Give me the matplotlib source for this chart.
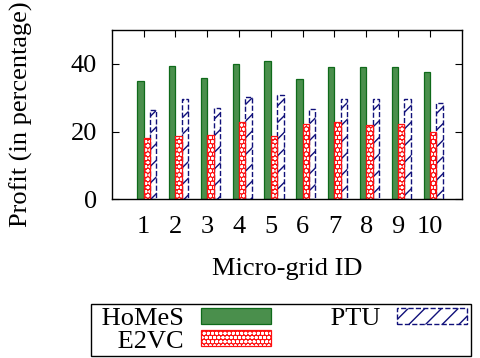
import matplotlib
matplotlib.use("Agg")
import matplotlib.pyplot as plt
import numpy as np

grid_ids = [1, 2, 3, 4, 5, 6, 7, 8, 9, 10]
homes = [35.0, 39.5, 35.9, 40.0, 40.7, 35.5, 39.1, 39.2, 39.0, 37.7]
e2vc = [18.1, 18.8, 18.9, 22.7, 18.6, 22.3, 22.7, 22.0, 22.3, 19.8]
ptu = [26.5, 29.7, 27.1, 30.2, 30.7, 26.8, 29.6, 29.7, 29.6, 28.5]
series_names = ["HoMeS", "E2VC", "PTU"]

plt.rcParams['font.family'] = ['Liberation Serif', 'DejaVu Serif']
plt.rcParams['hatch.linewidth'] = 1.0
FS = 19

fig = plt.figure(figsize=(4.8, 3.58), dpi=100)
ax = fig.add_axes([111.7/480, 1-199.3/358, 350/480, 169.3/358])

x = np.array(grid_ids, dtype=float)
w = 0.2
b1 = ax.bar(x - 0.1, homes, w, color='#4a8f4c', edgecolor='#0f6a1a', linewidth=0.9, zorder=2)
b2a = ax.bar(x + 0.1, e2vc, w, color='#ff1010', linewidth=0, zorder=2)
b2b = ax.bar(x + 0.1, e2vc, w, facecolor='none', edgecolor='white', hatch='oooo', linewidth=0, zorder=2.1)
b2c = ax.bar(x + 0.1, e2vc, w, facecolor='none', edgecolor='#ff1010', linewidth=0.9, zorder=2.2)
b3 = ax.bar(x + 0.3, ptu, w, facecolor='white', edgecolor='#10107a', hatch='//', linestyle='--', linewidth=1.0, zorder=2)

ax.set_xlim(0, 11)
ax.set_ylim(0, 50)
ax.set_xticks(grid_ids)
ax.set_xticklabels([str(g) for g in grid_ids])
ax.set_yticks([0, 20, 40])
ax.tick_params(axis='both', direction='in', length=5, width=0.8, top=True, right=True, labelsize=FS)
ax.tick_params(axis='y', pad=10.5)
ax.tick_params(axis='x', pad=12)
for s in ax.spines.values():
    s.set_linewidth(1.0)

ax.set_xlabel("Micro-grid ID", fontsize=FS)
ax.xaxis.set_label_coords(0.5, -0.345)
ax.set_ylabel("Profit (in percentage)", fontsize=FS)
ax.yaxis.set_label_coords(-0.225, 0.5)

leg = fig.legend([b1, (b2a, b2b, b2c), b3], [" " + n for n in series_names],
                 loc='upper left', bbox_to_anchor=(91/480, 1-304/358), ncol=2,
                 markerfirst=False, handlelength=2.65, handleheight=0.55,
                 handletextpad=0.65, columnspacing=2.0, borderpad=0.15,
                 labelspacing=0.0, borderaxespad=0, fontsize=FS,
                 fancybox=False, edgecolor='black', framealpha=1)
leg.get_frame().set_linewidth(1.0)

fig.savefig("out.png", dpi=100)
